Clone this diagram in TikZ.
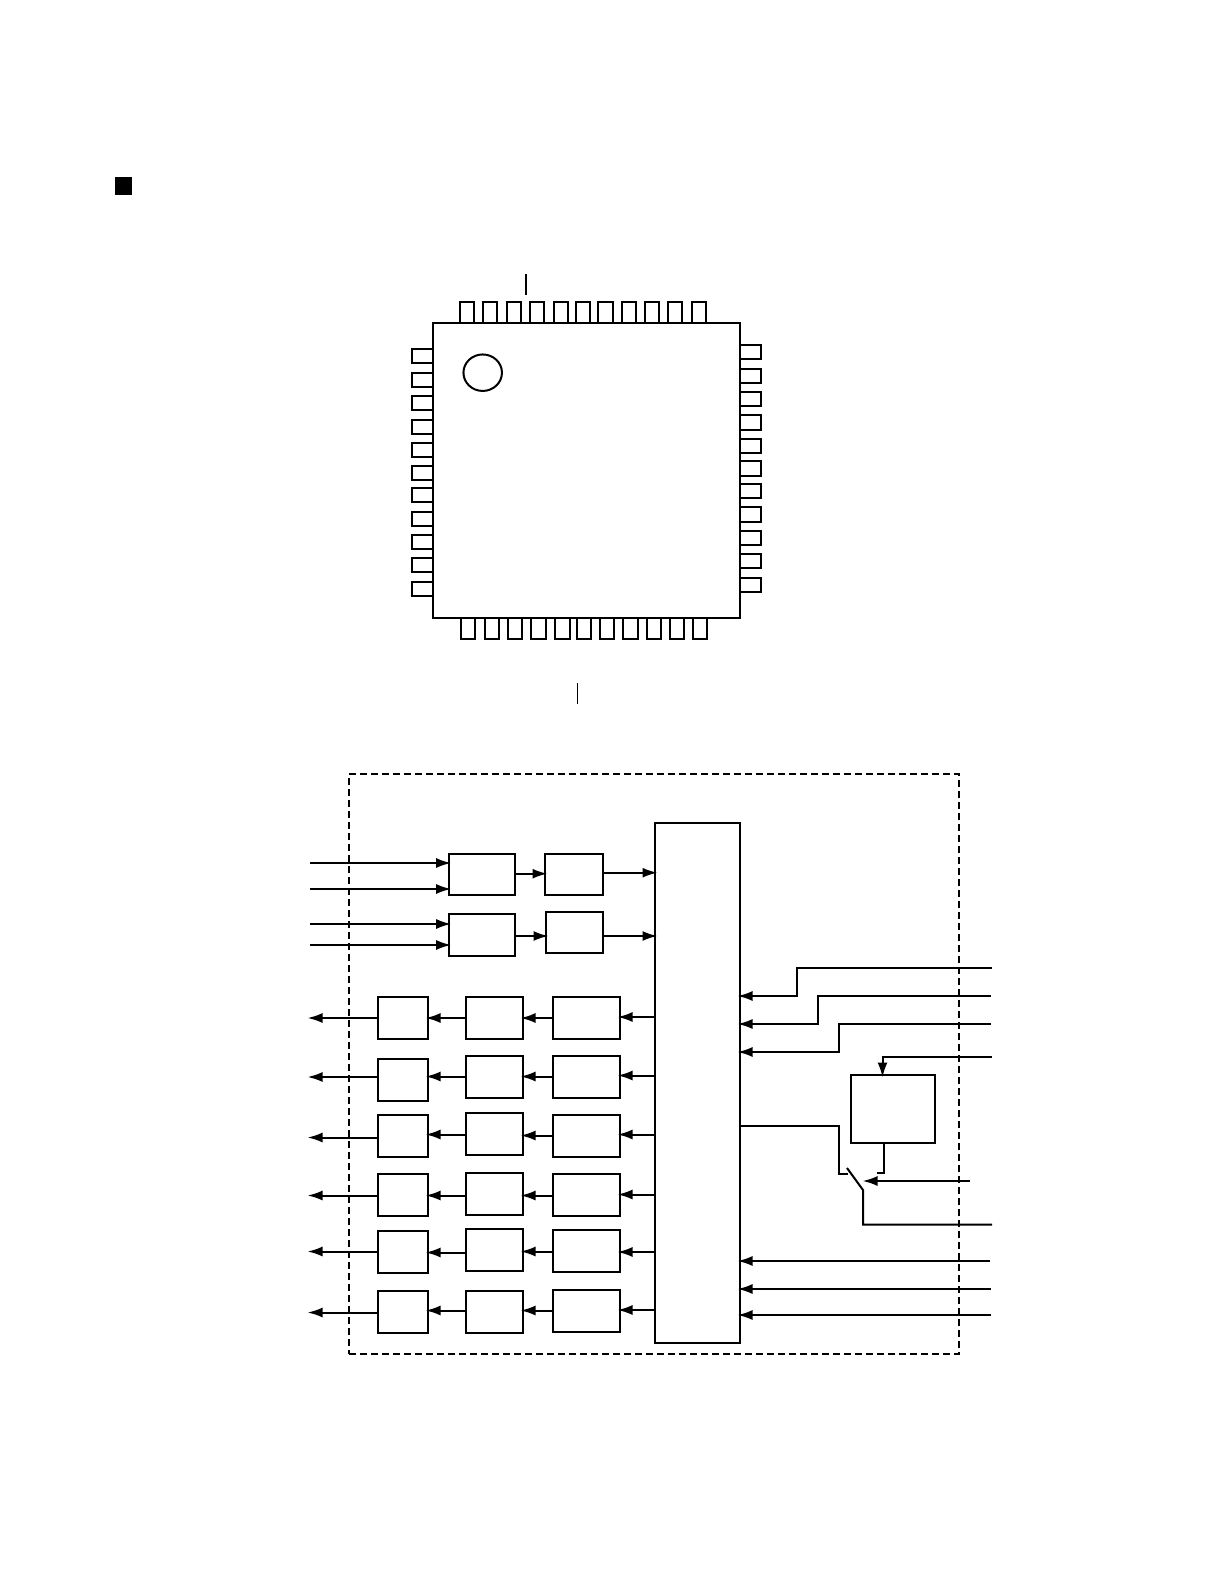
\documentclass[tikz,border=0pt]{standalone}
\usetikzlibrary{positioning, arrows.meta, shapes.geometric}

\tikzset{
  box/.style={draw, shape=rectangle, inner sep=0pt, outer sep=0pt, minimum height=42pt},
  cbox/.style={box, minimum width=50pt},
  dbox/.style={box, minimum width=57.5pt},
  ebox/.style={box, minimum width=67pt},
  pinbox/.style={draw, shape=rectangle, inner sep=0pt, outer sep=0pt},
  hpin/.style={pinbox, minimum width=21pt, minimum height=14.2pt},
  vpin/.style={pinbox, minimum width=14.2pt, minimum height=21pt},
  flow/.style={draw, ->, shorten >=-2.5pt}
}

\begin{document}
\begin{tikzpicture}[x=1pt, y=-1pt, line width=2pt, >={Latex[length=15pt, width=10pt]}]
  \useasboundingbox (0,0) rectangle (1224,1584);

  \node[fill=black, inner sep=0pt, minimum width=17pt, minimum height=18pt] (bullet) at (123.5,186) {};

  % package
  \node[draw, shape=rectangle, inner sep=0pt, outer sep=0pt, minimum width=307pt, minimum height=295.3pt] (chip) at (586.5,470.35) {};
  \node[draw, shape=ellipse, inner sep=0pt, minimum width=38.5pt, minimum height=36.5pt] (dot) at (482.7,372.7) {};
  \foreach \x [count=\i] in {466.6,489.8,513.7,537.3,561,583.2,605.5,628.8,651.8,675.2,698.8}
    \node[vpin, anchor=south] (pt\i) at (\x,0 |- chip.north) {};
  \foreach \x [count=\i] in {468.1,491.9,515,538.5,562.5,584.2,607,630.5,654.2,676.6,700}
    \node[vpin, anchor=north] (pb\i) at (\x,0 |- chip.south) {};
  \foreach \y [count=\i] in {355.9,379.9,403,426.6,449.8,472.8,494.9,519,541.7,564.9,588.7}
    \node[hpin, anchor=east] (pl\i) at (chip.west |- 0,\y) {};
  \foreach \y [count=\i] in {351.8,375.7,398.9,422.4,445.7,468.5,490.8,514.4,537.7,560.8,584.7}
    \node[hpin, anchor=west] (pr\i) at (chip.east |- 0,\y) {};

  \coordinate (ticka) at (526,274);
  \coordinate (tickb) at (526,295);
  \coordinate (tickc) at (577,683);
  \coordinate (tickd) at (577,704);
  \path[draw] (ticka) to (tickb);
  \path[draw, line width=1pt] (tickc) to (tickd);

  % block diagram
  \node[draw, dashed, dash pattern=on 7pt off 4pt, shape=rectangle, inner sep=0pt, outer sep=0pt, minimum width=610pt, minimum height=580pt] (frame) at (654,1064) {};
  \node[box, minimum width=85pt, minimum height=519.7pt] (bus) at (697.5,1082.85) {};

  \node[box, minimum width=66.3pt, minimum height=41pt] (a1) at (481.85,874.5) {};
  \node[box, minimum width=66.3pt, minimum height=42pt, below=19pt of a1] (a2) {};
  \node[box, minimum width=58pt, minimum height=41pt, right=30pt of a1] (b1) {};
  \node[box, minimum width=57pt, minimum height=41pt, right=31pt of a2, yshift=2.5pt] (b2) {};

  \node[cbox] (c1) at (403,1018) {};
  \node[cbox, below=19.7pt of c1] (c2) {};
  \node[cbox, below=14.5pt of c2] (c3) {};
  \node[cbox, below=17.25pt of c3] (c4) {};
  \node[cbox, below=14.75pt of c4] (c5) {};
  \node[cbox, below=18pt of c5] (c6) {};

  \node[dbox, right=37.5pt of c1] (d1) {};
  \node[dbox, right=37.5pt of c2, yshift=3pt] (d2) {};
  \node[dbox, right=37.5pt of c3, yshift=2.5pt] (d3) {};
  \node[dbox, right=37.5pt of c4, yshift=1.5pt] (d4) {};
  \node[dbox, right=37.5pt of c5, yshift=2.25pt] (d5) {};
  \node[dbox, right=37.5pt of c6, yshift=0.5pt] (d6) {};

  \node[ebox, right=30pt of d1] (e1) {};
  \node[ebox, right=30pt of d2] (e2) {};
  \node[ebox, right=30pt of d3, yshift=-2.5pt] (e3) {};
  \node[ebox, right=30pt of d4, yshift=-1pt] (e4) {};
  \node[ebox, right=30pt of d5, yshift=-1.5pt] (e5) {};
  \node[ebox, right=30pt of d6, yshift=0.5pt] (e6) {};

  \node[box, minimum width=84.3pt, minimum height=67.5pt] (f) at (892.85,1108.75) {};

  % inputs on the left
  \coordinate (i1) at (310,863);
  \coordinate (i2) at (310,889);
  \coordinate (i3) at (310,924);
  \coordinate (i4) at (310,945);
  \path[flow] (i1) to (a1.west |- i1);
  \path[flow] (i2) to (a1.west |- i2);
  \path[flow] (i3) to (a2.west |- i3);
  \path[flow] (i4) to (a2.west |- i4);
  \path[flow] (a1.east |- 0,873.7) to (b1.west |- 0,873.7);
  \path[flow] (a2.east |- 0,936) to (b2.west |- 0,936);
  \path[flow] (b1.east |- 0,872.7) to (bus.west |- 0,872.7);
  \path[flow] (b2.east |- 0,936) to (bus.west |- 0,936);

  % outputs on the left
  \coordinate (o1) at (310,1018);
  \coordinate (o2) at (310,1077);
  \coordinate (o3) at (310,1137.5);
  \coordinate (o4) at (310,1195.5);
  \coordinate (o5) at (310,1251.5);
  \coordinate (o6) at (310,1312.5);
  \path[flow] (c1.west |- o1) to (o1);
  \path[flow] (c2.west |- o2) to (o2);
  \path[flow] (c3.west |- o3) to (o3);
  \path[flow] (c4.west |- o4) to (o4);
  \path[flow] (c5.west |- o5) to (o5);
  \path[flow] (c6.west |- o6) to (o6);

  \path[flow] (d1.west |- 0,1018) to (c1.east |- 0,1018);
  \path[flow] (d2.west |- 0,1076.5) to (c2.east |- 0,1076.5);
  \path[flow] (d3.west |- 0,1134.5) to (c3.east |- 0,1134.5);
  \path[flow] (d4.west |- 0,1195.5) to (c4.east |- 0,1195.5);
  \path[flow] (d5.west |- 0,1252.5) to (c5.east |- 0,1252.5);
  \path[flow] (d6.west |- 0,1310.5) to (c6.east |- 0,1310.5);

  \path[flow] (e1.west |- 0,1018) to (d1.east |- 0,1018);
  \path[flow] (e2.west |- 0,1076.5) to (d2.east |- 0,1076.5);
  \path[flow] (e3.west |- 0,1135.5) to (d3.east |- 0,1135.5);
  \path[flow] (e4.west |- 0,1195.5) to (d4.east |- 0,1195.5);
  \path[flow] (e5.west |- 0,1251.5) to (d5.east |- 0,1251.5);
  \path[flow] (e6.west |- 0,1310.5) to (d6.east |- 0,1310.5);

  \path[flow] (bus.west |- 0,1017) to (e1.east |- 0,1017);
  \path[flow] (bus.west |- 0,1075.5) to (e2.east |- 0,1075.5);
  \path[flow] (bus.west |- 0,1134.5) to (e3.east |- 0,1134.5);
  \path[flow] (bus.west |- 0,1194.5) to (e4.east |- 0,1194.5);
  \path[flow] (bus.west |- 0,1252) to (e5.east |- 0,1252);
  \path[flow] (bus.west |- 0,1310) to (e6.east |- 0,1310);

  % lines on the right
  \coordinate (t1) at (992,968);
  \coordinate (t2) at (991,996);
  \coordinate (t3) at (991,1024);
  \coordinate (t4) at (992,1057);
  \coordinate (t5) at (992,1224.5);
  \coordinate (t6) at (990,1261);
  \coordinate (t7) at (991,1289);
  \coordinate (t8) at (991,1315);
  \coordinate (k1) at (797,996);
  \coordinate (k2) at (818,1024);
  \coordinate (k3) at (839,1052);
  \path[flow] (t1) -| (k1) -- (bus.east |- k1);
  \path[flow] (t2) -| (k2) -- (bus.east |- k2);
  \path[flow] (t3) -| (k3) -- (bus.east |- k3);
  \path[flow] (t4) -| ([xshift=-10.35pt] f.north);
  \path[flow] (t6) to (bus.east |- t6);
  \path[flow] (t7) to (bus.east |- t7);
  \path[flow] (t8) to (bus.east |- t8);

  % switch
  \coordinate (s1) at (839,1174);
  \coordinate (s2) at (848,1174);
  \coordinate (s3) at (877,1173);
  \coordinate (s4) at (970,1181);
  \coordinate (s5) at (865,1181);
  \coordinate (blade) at (847,1168);
  \coordinate (hinge) at (863,1190);
  \path[draw] (bus.east |- 0,1125.5) -| (s1) -- (s2);
  \path[draw] ([xshift=-9.35pt] f.south) |- (s3);
  \path[flow] (s4) to (s5);
  \path[draw] (blade) -- (hinge) |- (t5);
\end{tikzpicture}
\end{document}
